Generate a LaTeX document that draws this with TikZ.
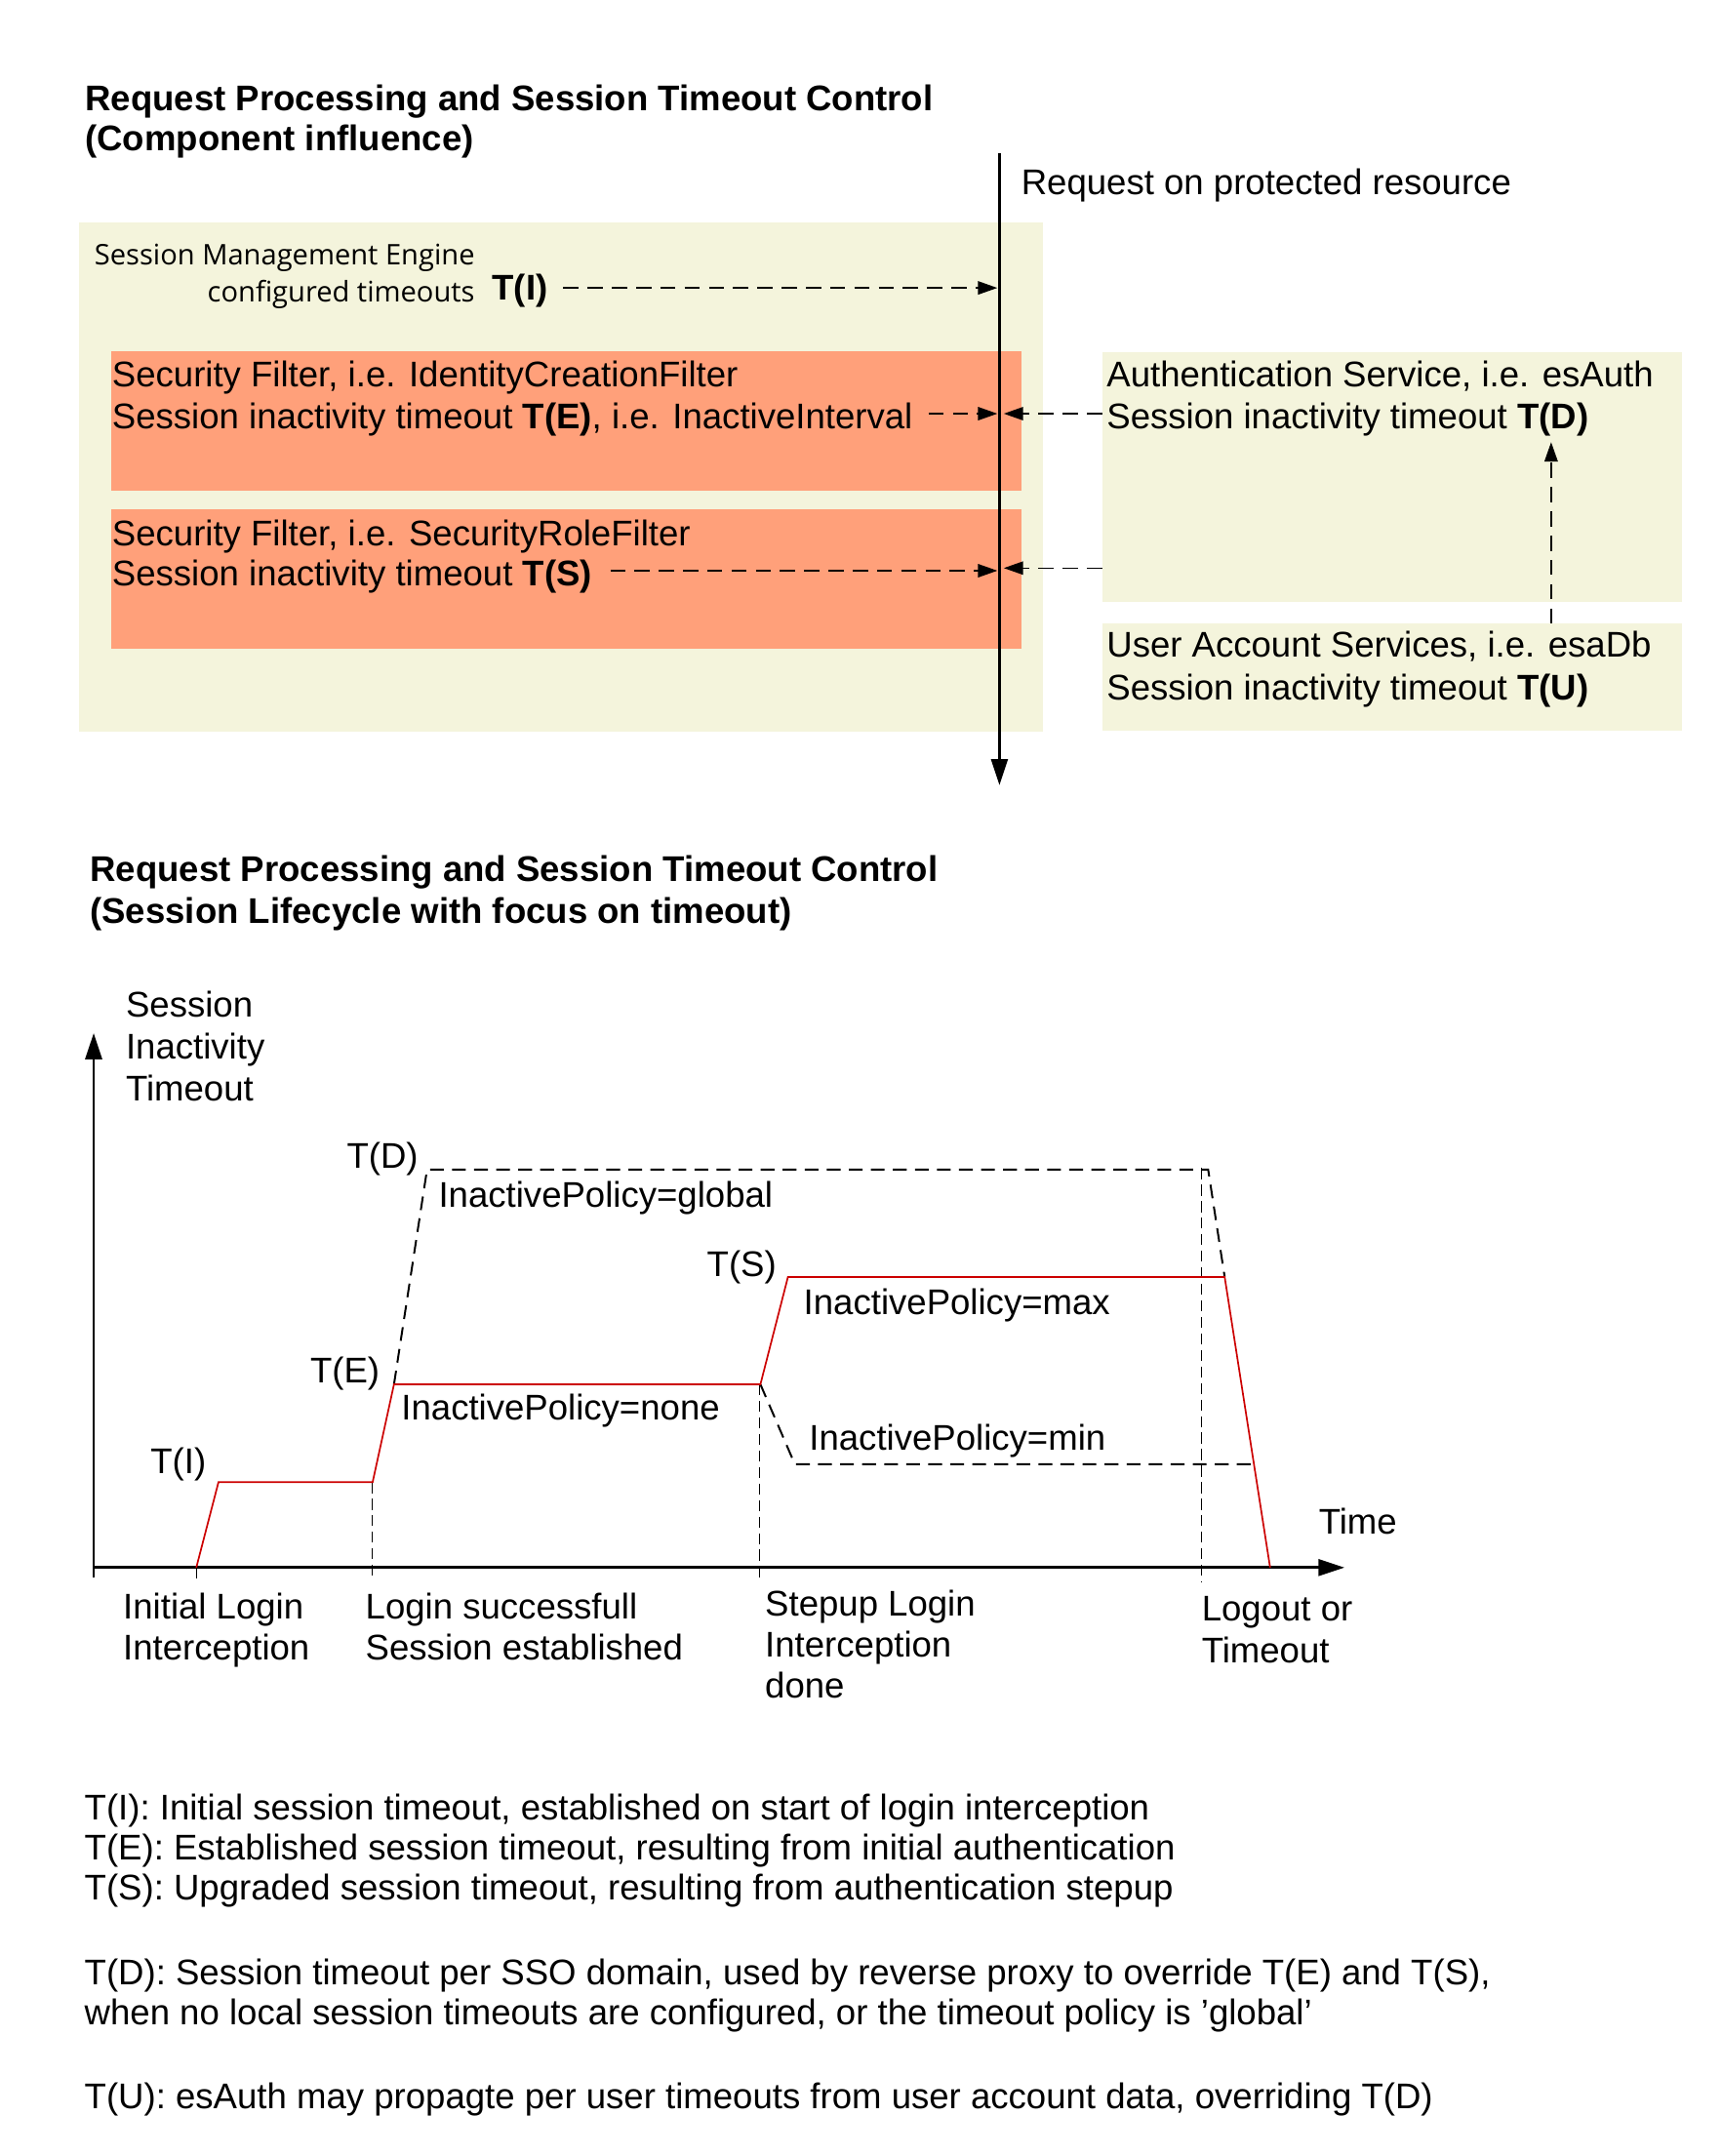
\documentclass[tikz,border=0pt]{standalone}
\usepackage{fontspec}
\setmainfont{Liberation Sans}
\newfontfamily\smefont{Open Sans}
\usetikzlibrary{arrows.meta}
\definecolor{beigebg}{RGB}{244,244,220}
\definecolor{salmonbg}{RGB}{255,160,122}
\definecolor{redline}{RGB}{204,0,0}
\begin{document}
\begin{tikzpicture}[x=0.5pt,y=-0.5pt,
  txt/.style={inner sep=0pt, anchor=base west, font=\fontsize{12.95}{15}\selectfont},
  ttl/.style={inner sep=0pt, anchor=base west, font=\fontsize{12.95}{15}\selectfont\bfseries},
  smetxt/.style={inner sep=0pt, anchor=base east, font=\smefont\fontsize{10.3}{12}\selectfont},
  dasharrow/.style={line width=0.5pt, dash pattern=on 5.5pt off 3.3pt, -{Triangle[length=7pt,width=4.8pt]}},
  mainline/.style={line width=1pt, -{Triangle[length=9.5pt,width=6pt]}},
  axisline/.style={line width=1pt, -{Triangle[length=9.5pt,width=6pt]}},
  redcurve/.style={line width=0.6pt, draw=redline},
  policydash/.style={line width=0.7pt, dash pattern=on 5pt off 3pt},
  thindash/.style={line width=0.35pt, dash pattern=on 4pt off 2pt}]
\useasboundingbox (0,0) rectangle (1250,1565.2);

% ---------- top section ----------
\node[ttl] (t1a) at (61.5,80.5) {Request Processing and Session Timeout Control};
\node[ttl] (t1b) at (61.5,109.5) {(Component influence)};

\fill[beigebg] (57.4,161.6) rectangle (757,531);
\fill[salmonbg] (81,255) rectangle (741.5,356);
\fill[salmonbg] (81,370) rectangle (741.5,471);
\fill[beigebg] (800,255.7) rectangle (1221,437);
\fill[beigebg] (800,452.6) rectangle (1221,530.5);

\coordinate (rtop) at (725.5,111.4);
\coordinate (rbot) at (725.5,570);
\draw[mainline] (rtop) -- (rbot);
\node[txt] (req) at (741,141) {Request on protected resource};

\node[smetxt] (sme1) at (345,192.5) {Session Management Engine};
\node[smetxt] (sme2) at (345,219) {configured timeouts};
\node[ttl] (ti) at (357,218) {T(I)};

\node[txt] (sf1a) at (81,281) {Security Filter, i.e. IdentityCreationFilter};
\node[txt] (sf1b) at (81,311) {Session inactivity timeout \textbf{T(E)}, i.e. InactiveInterval};
\node[txt] (sf2a) at (81,396) {Security Filter, i.e. SecurityRoleFilter};
\node[txt] (sf2b) at (81,425) {Session inactivity timeout \textbf{T(S)}};

\node[txt] (as1) at (803,281) {Authentication Service, i.e. esAuth};
\node[txt] (as2) at (803,311) {Session inactivity timeout \textbf{T(D)}};
\node[txt] (ua1) at (803,477) {User Account Services, i.e. esaDb};
\node[txt] (ua2) at (803,508) {Session inactivity timeout \textbf{T(U)}};

\coordinate (tiS) at (409,209);   \coordinate (tiE) at (724,209);
\coordinate (teS) at (674,300.3); \coordinate (teE) at (724,300.3);
\coordinate (tsS) at (443,414.3); \coordinate (tsE) at (724,414.3);
\coordinate (tdS) at (800,300.3); \coordinate (tdE) at (728.7,300.3);
\coordinate (td2S) at (800,412.4); \coordinate (td2E) at (728.7,412.4);
\coordinate (tuS) at (1126,452.6); \coordinate (tuE) at (1126,321);
\draw[dasharrow] (tiS) -- (tiE);
\draw[dasharrow] (teS) -- (teE);
\draw[dasharrow] (tsS) -- (tsE);
\draw[dasharrow] (tdS) -- (tdE);
\draw[dasharrow] (td2S) -- (td2E);
\draw[dasharrow] (tuS) -- (tuE);

% ---------- chart ----------
\node[ttl] (t2a) at (65,640) {Request Processing and Session Timeout Control};
\node[ttl] (t2b) at (65,670) {(Session Lifecycle with focus on timeout)};

\node[txt] (ya) at (91,738) {Session};
\node[txt] (yb) at (91,769) {Inactivity};
\node[txt] (yc) at (91,799) {Timeout};

\coordinate (origin) at (68,1145);
\coordinate (ytip) at (68,750);
\coordinate (xstart) at (68,1138);
\coordinate (xtip) at (976,1138);
\draw[axisline] (origin) -- (ytip);
\draw[axisline] (xstart) -- (xtip);
\node[txt] (time) at (957,1114) {Time};

\coordinate (r0) at (142.5,1138);
\coordinate (r1) at (158.6,1076);
\coordinate (r2) at (270.5,1076);
\coordinate (r3) at (286,1005);
\coordinate (r4) at (552,1005);
\coordinate (r5) at (572,927);
\coordinate (r6) at (889,927);
\coordinate (r7) at (922,1138);
\coordinate (g1) at (310,849);
\coordinate (g2) at (877,849);
\coordinate (m1) at (577,1063);
\coordinate (m2) at (911,1063);

\draw[thindash] (270.5,1076) -- (270.5,1147);
\draw[thindash] (551,1005) -- (551,1147);
\draw[thindash] (872,848) -- (872,1149);
\draw[line width=0.35pt] (142.5,1138) -- (142.5,1146);

\draw[policydash] (r3) -- (g1) -- (g2) -- (r6);
\draw[policydash] (r4) -- (m1) -- (m2);
\draw[redcurve] (r0) -- (r1) -- (r2) -- (r3) -- (r4) -- (r5) -- (r6) -- (r7);

\node[txt, anchor=base east] (lti) at (150,1070) {T(I)};
\node[txt, anchor=base east] (lte) at (276,1004) {T(E)};
\node[txt, anchor=base east] (ltd) at (304,848) {T(D)};
\node[txt, anchor=base east] (lts) at (564,926.5) {T(S)};

\node[txt] (pg) at (318,876.5) {InactivePolicy=global};
\node[txt] (pn) at (291,1030.5) {InactivePolicy=none};
\node[txt] (px) at (583,954.5) {InactivePolicy=max};
\node[txt] (pm) at (587,1053) {InactivePolicy=min};

\node[txt] (e1a) at (89,1175) {Initial Login};
\node[txt] (e1b) at (89,1205) {Interception};
\node[txt] (e2a) at (265,1175) {Login successfull};
\node[txt] (e2b) at (265,1205) {Session established};
\node[txt] (e3a) at (555,1173) {Stepup Login};
\node[txt] (e3b) at (555,1203) {Interception};
\node[txt] (e3c) at (555,1233) {done};
\node[txt] (e4a) at (872,1177) {Logout or};
\node[txt] (e4b) at (872,1207) {Timeout};

% ---------- notes ----------
\node[txt] (n1) at (61,1321) {T(I): Initial session timeout, established on start of login interception};
\node[txt] (n2) at (61,1350) {T(E): Established session timeout, resulting from initial authentication};
\node[txt] (n3) at (61,1379) {T(S): Upgraded session timeout, resulting from authentication stepup};
\node[txt] (n4) at (61,1441) {T(D): Session timeout per SSO domain, used by reverse proxy to override T(E) and T(S),};
\node[txt] (n5) at (61,1470) {when no local session timeouts are configured, or the timeout policy is ’global’};
\node[txt] (n6) at (61,1531) {T(U): esAuth may propagte per user timeouts from user account data, overriding T(D)};
\end{tikzpicture}
\end{document}
